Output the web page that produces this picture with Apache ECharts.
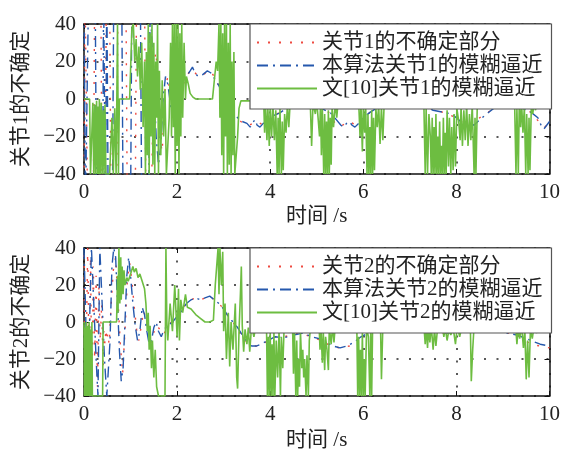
<!DOCTYPE html>
<html>
<head>
<meta charset="utf-8">
<script src="https://cdn.jsdelivr.net/npm/echarts/dist/echarts.min.js"></script>
<style>
  html, body { margin: 0; padding: 0; background: #fff; }
  #container { width: 563px; height: 452px; }
</style>
</head>
<body>
<div id="container"></div>
<script>
// 坐标轴刻度
const xTicks = [0, 2, 4, 6, 8, 10];
const yTicks = [-40, -20, 0, 20, 40];
const names1 = ['关节1的不确定部分', '本算法关节1的模糊逼近', '文[10]关节1的模糊逼近'];
const names2 = ['关节2的不确定部分', '本算法关节2的模糊逼近', '文[10]关节2的模糊逼近'];

// 关节1 不确定部分
const unc1 = [[0,-60],[0.02,60],[0.05,60],[0.08,-60],[0.2,-60],[0.23,60],[0.36,60],[0.39,-60],[0.45,-60],[0.48,60],
  [0.55,60],[0.58,-60],[0.7,-60],[0.73,60],[0.9,60],[0.93,-60],[1.1,-60],[1.13,60],[1.3,60],[1.33,-60],[1.45,-50],
  [1.5,20],[1.55,25],[1.62,-20],[1.68,-28],[1.74,5],[1.8,12],[1.88,-2],[1.96,-9],[2.04,-1],[2.12,7],[2.22,13],
  [2.32,16],[2.42,13],[2.52,12],[2.62,14],[2.72,15],[2.82,11],[2.92,6],[3.02,1],[3.12,-4],[3.22,-8],[3.32,-11],
  [3.42,-13],[3.55,-14],[3.7,-12],[3.87,-14],[4.0,-11],[4.2,-7],[4.4,-4],[4.7,-2],[5.0,-4],[5.25,-7],[5.42,-14],
  [5.55,-14],[5.7,-12],[5.85,-14],[6.0,-10],[6.3,-4],[6.8,-1],[7.3,-4],[7.7,-7],[8.0,-10],[8.2,-14],[8.35,-13],
  [8.6,-8],[9.0,-3],[9.4,-5],[9.6,-7],[9.8,-13],[9.9,-15],[10,-12]];
// 本算法关节1的模糊逼近
const fz1 = [[0,60],[0.03,-60],[0.07,-60],[0.1,60],[0.24,60],[0.27,-60],[0.4,-60],[0.42,60],[0.44,60],[0.46,-60],
  [0.47,-60],[0.49,60],[0.5,60],[0.52,-60],[0.61,-60],[0.64,60],[0.81,60],[0.84,-60],[1.0,-60],[1.03,60],
  [1.21,60],[1.24,-60],[1.39,-60],[1.42,50],[1.46,30],[1.5,10],[1.55,-20],[1.6,-35],[1.65,-25],[1.7,0],
  [1.75,12],[1.8,8],[1.87,-5],[1.95,-8],[2.02,-2],[2.1,6],[2.2,12],[2.28,15],[2.33,17],[2.38,14],[2.45,12],
  [2.55,13],[2.65,15],[2.72,14],[2.8,11],[2.9,7],[3.0,2],[3.1,-3],[3.2,-7],[3.3,-10],[3.4,-12],[3.5,-13],
  [3.57,-15],[3.62,-13],[3.67,-11],[3.72,-14],[3.78,-15],[3.85,-13],[3.95,-11],[4.05,-9],[4.2,-7.5],[4.35,-5],
  [4.5,-3],[4.7,-2],[4.9,-3],[5.1,-5],[5.3,-7.5],[5.42,-11],[5.52,-14],[5.58,-15],[5.64,-13],[5.7,-12],
  [5.76,-14],[5.82,-15],[5.9,-13],[6.0,-10],[6.15,-7],[6.35,-4],[6.6,-2],[6.9,-1],[7.2,-3],[7.5,-6],[7.7,-7],
  [7.9,-8],[8.05,-11],[8.15,-14],[8.22,-15],[8.3,-13],[8.38,-14],[8.46,-12],[8.6,-9],[8.8,-5],[9.0,-3],
  [9.2,-3],[9.4,-5],[9.6,-7],[9.75,-10],[9.82,-14],[9.88,-16],[9.94,-14],[10,-12]];
// 文[10]关节1的模糊逼近
const ref1 = [[0,0],[0.12,0],[0.14,-40],[0.17,-40],[0.19,-2],[0.21,-40],[0.23,-3],[0.25,-40],[0.27,-1],[0.29,-40],
  [0.3,-4],[0.32,-40],[0.33,0],[0.35,-40],[0.37,-2],[0.39,-40],[0.41,-6],[0.43,-40],[0.45,-3],[0.47,-40],
  [0.55,-40],[0.6,-10],[0.63,-40],[0.66,-5],[0.69,-40],[0.72,40],[0.74,-40],[0.76,0],[0.98,0],[1.03,38],
  [1.06,40],[1.09,20],[1.12,32],[1.15,12],[1.18,28],[1.21,5],[1.24,30],[1.27,-15],[1.3,20],[1.32,-40],
  [1.34,25],[1.36,-30],[1.38,40],[1.4,-40],[1.42,35],[1.44,-20],[1.46,40],[1.48,-35],[1.5,30],[1.52,-40],
  [1.54,20],[1.56,-10],[1.58,40],[1.6,-40],[1.62,15],[1.65,-30],[1.68,10],[1.71,-20],[1.74,5],[1.77,-40],
  [1.8,-40],[1.83,-10],[1.86,30],[1.88,-20],[1.9,40],[1.92,-15],[1.94,40],[1.96,-40],[1.98,40],[2.0,-25],
  [2.02,40],[2.04,-40],[2.06,35],[2.08,-20],[2.1,40],[2.12,-10],[2.15,30],[2.18,0],[2.2,12],[2.24,8],
  [2.28,3],[2.34,1],[2.4,0],[2.76,0],[2.8,10],[2.84,20],[2.87,15],[2.9,40],[2.92,-10],[2.94,40],[2.96,-30],
  [2.98,35],[3.0,-40],[3.02,40],[3.04,-20],[3.06,40],[3.08,-40],[3.1,30],[3.12,-35],[3.14,40],[3.16,-40],
  [3.18,20],[3.2,-30],[3.22,25],[3.24,-40],[3.27,-40],[3.3,-20],[3.33,-5],[3.37,-1],[3.86,-1],[3.88,-18],
  [3.9,-3],[3.93,-22],[3.95,-5],[3.98,-25],[4.0,-2],[4.03,-20],[4.06,-4],[4.09,-22],[4.12,-6],[4.15,-40],
  [4.17,-10],[4.19,-40],[4.21,-5],[4.24,-40],[4.26,-12],[4.28,-38],[4.31,-8],[4.34,-18],[4.37,-3],[4.4,-15],
  [4.43,-1],[4.86,-1],[4.89,-25],[4.92,-2],[4.97,-8],[5.0,-1],[5.06,-20],[5.08,-3],[5.1,-30],[5.12,-5],
  [5.15,-40],[5.17,-8],[5.19,-40],[5.21,-12],[5.23,-40],[5.25,-6],[5.27,-40],[5.29,-10],[5.31,-35],[5.33,-4],
  [5.36,-15],[5.4,-2],[5.43,-10],[5.46,-1],[5.9,-1],[5.93,-20],[5.95,-3],[5.98,-28],[6.0,-5],[6.03,-18],
  [6.05,-2],[6.08,-40],[6.1,-8],[6.12,-40],[6.14,-15],[6.16,-40],[6.18,-6],[6.2,-40],[6.22,-10],[6.24,-38],
  [6.27,-5],[6.3,-15],[6.33,-3],[6.36,-24],[6.39,-4],[6.42,-22],[6.45,-1],[7.3,-1],[7.33,-40],[7.35,-5],
  [7.38,-40],[7.41,-8],[7.44,-20],[7.46,-40],[7.48,-10],[7.5,-40],[7.52,-15],[7.54,-40],[7.56,-8],[7.58,-40],
  [7.6,-20],[7.62,-40],[7.64,-12],[7.66,-40],[7.68,-25],[7.7,-40],[7.72,-10],[7.74,-40],[7.76,-18],[7.78,-40],
  [7.8,-6],[7.83,-36],[7.85,-10],[7.88,-40],[7.9,-15],[7.93,-38],[7.95,-8],[7.98,-36],[8.01,-5],[8.05,-12],
  [8.08,-22],[8.1,-4],[8.13,-25],[8.16,-6],[8.19,-22],[8.22,-3],[8.25,-25],[8.28,-8],[8.31,-22],[8.34,-3],
  [8.38,-40],[8.4,-10],[8.42,-40],[8.45,-1],[9.25,-1],[9.28,-40],[9.3,-5],[9.33,-40],[9.35,-3],[9.38,-15],
  [9.4,-2],[9.43,-18],[9.46,-4],[9.49,-40],[9.51,-8],[9.54,-40],[9.56,-10],[9.58,-38],[9.61,-3],[9.64,-8],
  [9.67,-2],[9.7,-6],[9.73,-1],[10,-1]];

// 关节2 不确定部分
const unc2 = [[0,60],[0.02,-60],[0.06,-60],[0.08,40],[0.11,-30],[0.14,35],[0.17,-40],[0.2,30],[0.23,-20],
  [0.26,25],[0.29,-35],[0.32,20],[0.35,-10],[0.38,10],[0.41,-25],[0.43,-5],[0.45,-12],[0.47,-4],[0.49,-10],
  [0.51,-6],[0.54,-12],[0.58,8],[0.63,28],[0.68,35],[0.73,12],[0.78,-12],[0.83,-28],[0.88,-5],[0.93,22],
  [0.98,32],[1.03,22],[1.08,8],[1.13,-4],[1.18,-10],[1.23,-2],[1.28,6],[1.33,2],[1.38,-7],[1.43,-12],[1.48,-8],
  [1.53,-2],[1.6,-3],[1.7,-7],[1.8,-3],[1.9,1],[2.0,4],[2.1,7],[2.2,10],[2.3,12],[2.4,13],[2.5,12],[2.6,13],
  [2.7,14],[2.8,12],[2.9,10],[3.0,7],[3.1,3],[3.2,0],[3.3,-4],[3.4,-8],[3.5,-11],[3.6,-13],[3.75,-13],
  [3.9,-11],[4.1,-8],[4.3,-8],[4.6,-6],[4.9,-8],[5.1,-10],[5.3,-13],[5.5,-14],[5.7,-13],[5.9,-9],[6.2,-5],
  [6.8,-3],[7.4,-5],[7.8,-6],[8.3,-4],[8.9,-5],[9.3,-7],[9.6,-12],[9.8,-13],[10,-14]];
// 本算法关节2的模糊逼近
const fz2 = [[0,40],[0.02,40],[0.08,-40],[0.12,-40],[0.16,40],[0.2,40],[0.26,-20],[0.3,-40],[0.32,-40],[0.34,40],
  [0.38,40],[0.44,-20],[0.49,-40],[0.52,-40],[0.56,-10],[0.6,30],[0.64,40],[0.68,35],[0.72,10],[0.76,-15],
  [0.8,-32],[0.84,-25],[0.88,0],[0.92,25],[0.96,35],[1.0,25],[1.05,10],[1.1,-2],[1.15,-10],[1.2,-5],[1.25,8],
  [1.3,4],[1.35,-5],[1.4,-12],[1.45,-10],[1.5,-3],[1.55,0],[1.6,-5],[1.66,-8],[1.72,-4],[1.8,-2],[1.9,0],
  [2.0,3],[2.1,6],[2.2,10],[2.3,12],[2.4,13],[2.5,12],[2.6,13],[2.7,14],[2.8,12],[2.9,10],[3.0,7],[3.1,3],
  [3.2,0],[3.3,-3],[3.4,-7],[3.5,-11],[3.6,-13],[3.7,-13],[3.8,-12],[3.95,-10],[4.1,-8],[4.3,-8.5],[4.5,-7],
  [4.7,-6],[4.9,-8],[5.05,-9],[5.2,-11],[5.35,-13],[5.5,-14],[5.65,-13],[5.8,-11],[5.95,-8],[6.1,-6],[6.4,-4],
  [6.8,-3],[7.2,-4],[7.5,-5],[7.8,-6],[8.1,-5],[8.5,-4],[8.9,-5],[9.3,-7],[9.6,-10],[9.8,-12],[10,-13]];
// 文[10]关节2的模糊逼近
const ref2 = [[0,0],[0.01,-40],[0.02,-3],[0.03,-40],[0.05,0],[0.06,-40],[0.08,-2],[0.09,-40],[0.11,0],
  [0.12,-40],[0.14,-4],[0.15,-40],[0.17,0],[0.18,-40],[0.2,-40],[0.4,-40],[0.41,0],[0.7,0],[0.72,25],[0.73,5],
  [0.75,40],[0.77,10],[0.79,35],[0.8,12],[0.82,30],[0.84,15],[0.86,28],[0.88,20],[0.92,24],[0.95,22],[1.0,26],
  [1.05,30],[1.08,27],[1.12,29],[1.16,24],[1.2,26],[1.25,22],[1.3,18],[1.33,10],[1.36,-5],[1.38,5],[1.4,-15],
  [1.42,-2],[1.45,-25],[1.47,-10],[1.5,-30],[1.53,-15],[1.56,-35],[1.6,-40],[1.74,-40],[1.76,40],[1.78,0],
  [1.8,-10],[1.85,10],[1.9,-5],[1.95,20],[2.0,-8],[2.03,18],[2.05,-10],[2.08,12],[2.12,5],[2.18,15],[2.22,8],
  [2.3,7],[2.4,4],[2.5,2],[2.6,0],[2.7,0],[2.78,1],[2.82,20],[2.85,30],[2.88,40],[2.9,15],[2.92,40],[2.95,20],
  [2.98,38],[3.0,-5],[3.03,10],[3.06,-20],[3.1,5],[3.13,-24],[3.16,0],[3.2,-15],[3.25,10],[3.28,-30],
  [3.3,-36],[3.33,-5],[3.36,15],[3.38,30],[3.4,-2],[3.43,-16],[3.46,-4],[3.5,-12],[3.53,-3],[3.56,-16],
  [3.6,-2],[3.65,-8],[3.7,-1],[3.92,-1],[3.94,-40],[3.96,-8],[3.98,-40],[4.0,-5],[4.02,-40],[4.04,-12],
  [4.06,-40],[4.08,-6],[4.1,-40],[4.13,-10],[4.16,-30],[4.19,-5],[4.22,-40],[4.24,-8],[4.27,-25],[4.3,-2],
  [4.48,-1],[4.5,-28],[4.52,-3],[4.55,-40],[4.57,-10],[4.59,-40],[4.61,-20],[4.63,-35],[4.65,-5],[4.68,-25],
  [4.7,-15],[4.72,-30],[4.74,-20],[4.77,-40],[4.79,-18],[4.82,-40],[4.84,-10],[4.87,-2],[5.05,-1],[5.07,-15],
  [5.09,-3],[5.12,-22],[5.14,-5],[5.17,-26],[5.19,-8],[5.22,-15],[5.25,-26],[5.27,-3],[5.31,-12],[5.34,-2],
  [5.37,-11],[5.4,-1],[5.86,-1],[5.88,-40],[5.9,-8],[5.92,-40],[5.94,-15],[5.96,-40],[5.98,-6],[6.0,-40],
  [6.02,-20],[6.04,-40],[6.07,-3],[6.11,-8],[6.14,-40],[6.16,-5],[6.18,-40],[6.2,-2],[6.37,-2],[6.39,-31],
  [6.42,-2],[7.3,-1],[7.33,-12],[7.35,-2],[7.38,-14],[7.4,-3],[7.43,-11],[7.46,-2],[7.5,-15],[7.53,-4],
  [7.56,-13],[7.6,-2],[7.7,-2],[7.73,-8],[7.76,-3],[7.8,-10],[7.84,-4],[7.88,-7],[7.93,-3],[7.98,-12],
  [8.02,-2],[8.07,-8],[8.12,-2],[8.3,-2],[8.32,-32],[8.35,-15],[8.38,-2],[9.27,-1],[9.3,-12],[9.33,-3],
  [9.36,-9],[9.4,-2],[9.44,-14],[9.47,-4],[9.5,-31],[9.53,-10],[9.56,-30],[9.59,-4],[9.63,-9],[9.67,-2],
  [9.72,-6],[9.76,-1],[10,-1]];

const FONT = "'Liberation Serif', 'Noto Sans CJK SC', serif";
const lineColors = ['#ee4a40', '#2558ad', '#6dbd41'];
const lineTypes = [[2, 9], [11, 5, 2, 5], 'solid'];

function xAxisPair(gi, nameGap) {
  return [{
    type: 'value', gridIndex: gi, min: 0, max: 10, interval: 2,
    name: '时间 /s', nameLocation: 'middle', nameGap: nameGap,
    nameTextStyle: { fontFamily: FONT, fontSize: 21, color: '#222' },
    axisLine: { onZero: false, lineStyle: { color: '#111', width: 1.5 } },
    axisTick: { inside: true, length: 5, lineStyle: { color: '#111' } },
    axisLabel: { margin: 8, fontFamily: FONT, fontSize: 21, color: '#222' },
    splitLine: { show: true, lineStyle: { color: '#222', width: 1.5, type: [2, 10.5] } }
  }, {
    type: 'value', gridIndex: gi, min: 0, max: 10, interval: 2, position: 'top',
    axisLine: { onZero: false, lineStyle: { color: '#111', width: 1.5 } },
    axisTick: { inside: true, length: 5, lineStyle: { color: '#111' } },
    axisLabel: { show: false }, splitLine: { show: false }
  }];
}
function yAxisPair(gi, name) {
  return [{
    type: 'value', gridIndex: gi, min: -40, max: 40, interval: 20,
    name: name, nameLocation: 'middle', nameGap: 52,
    nameTextStyle: { fontFamily: FONT, fontSize: 21, color: '#222' },
    axisLine: { show: true, onZero: false, lineStyle: { color: '#111', width: 1.5 } },
    axisTick: { show: true, inside: true, length: 5, lineStyle: { color: '#111' } },
    axisLabel: { margin: 8, fontFamily: FONT, fontSize: 21, color: '#222',
      formatter: v => String(v).replace('-', '\u2212') },
    splitLine: { show: true, lineStyle: { color: '#222', width: 1.5, type: [2, 10.5] } }
  }, {
    type: 'value', gridIndex: gi, min: -40, max: 40, interval: 20, position: 'right',
    axisLine: { show: true, onZero: false, lineStyle: { color: '#111', width: 1.5 } },
    axisTick: { show: true, inside: true, length: 5, lineStyle: { color: '#111' } },
    axisLabel: { show: false }, splitLine: { show: false }
  }];
}
function makeSeries(names, datas, axisIdx) {
  return names.map((n, i) => ({
    name: n, type: 'line', data: datas[i],
    xAxisIndex: axisIdx, yAxisIndex: axisIdx,
    symbol: 'none', clip: true, animation: false,
    lineStyle: { color: lineColors[i], width: i === 2 ? 1.6 : 1.4, type: lineTypes[i] },
    itemStyle: { color: lineColors[i] }
  }));
}
function makeLegend(names, top) {
  return {
    data: names, orient: 'vertical', left: 250, top: top,
    itemWidth: 60, itemHeight: 14, itemGap: 2, padding: [8, 9, 10, 6],
    selectedMode: false,
    // 图例只画线，不画圆点
    itemStyle: { opacity: 0, borderWidth: 0 },
    backgroundColor: '#fff', borderColor: '#555', borderWidth: 1.2,
    textStyle: { fontFamily: FONT, fontSize: 21, lineHeight: 21, color: '#222' }
  };
}

let chart = echarts.init(document.getElementById('container'));
let option = {
  backgroundColor: '#fff',
  animation: false,
  grid: [
    { left: 84, top: 24, width: 467, height: 150 },
    { left: 84, top: 248, width: 466, height: 149 }
  ],
  xAxis: [...xAxisPair(0, 32), ...xAxisPair(1, 34)],
  yAxis: [...yAxisPair(0, '关节1的不确定'), ...yAxisPair(1, '关节2的不确定')],
  legend: [makeLegend(names1, 24), makeLegend(names2, 248)],
  series: [
    ...makeSeries(names1, [unc1, fz1, ref1], 0),
    ...makeSeries(names2, [unc2, fz2, ref2], 2)
  ]
};
// 上下两图的坐标轴索引：0/1 属于上图，2/3 属于下图
chart.setOption(option);
</script>
</body>
</html>
